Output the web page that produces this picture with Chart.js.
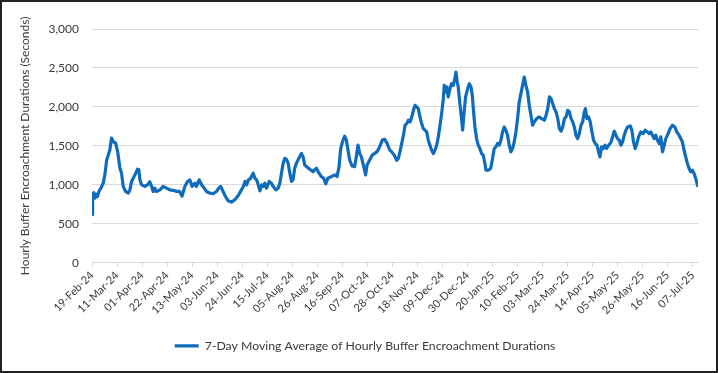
<!DOCTYPE html>
<html>
<head>
<meta charset="utf-8">
<script src="https://cdn.jsdelivr.net/npm/chart.js@4.4.1/dist/chart.umd.min.js"></script>
<style>
  html, body { margin: 0; padding: 0; background: #fff; }
  #frame { width: 718px; height: 373px; box-sizing: border-box; border: 2px solid #222; background: #fff; }
  canvas { display: block; }
</style>
</head>
<body>
<div id="frame"><canvas id="c" width="714" height="369"></canvas></div>
<script>
// ---- Data ----
const startDate = "19-Feb-24";
const tickLabels = ["19-Feb-24","11-Mar-24","01-Apr-24","22-Apr-24","13-May-24","03-Jun-24","24-Jun-24","15-Jul-24","05-Aug-24","26-Aug-24","16-Sep-24","07-Oct-24","28-Oct-24","18-Nov-24","09-Dec-24","30-Dec-24","20-Jan-25","10-Feb-25","03-Mar-25","24-Mar-25","14-Apr-25","05-May-25","26-May-25","16-Jun-25","07-Jul-25"];
const yTicks = [0, 500, 1000, 1500, 2000, 2500, 3000];
const seriesName = "7-Day Moving Average of Hourly Buffer Encroachment Durations";
// days elapsed since 19-Feb-24
const dayOffsets = [0,0.5,1.5,2.5,3.5,4.5,6,7.5,9.5,11,12.3,13.7,15,16.4,17.8,19.8,21.5,23.4,24.8,26.2,28.2,30.4,31.8,33.2,36,38.2,39.3,40.2,41.6,44.4,47.1,48.5,50,51.3,52.7,54,57.1,59.7,62.5,65.3,68,71,73.5,75.6,77.9,80,82.1,84,86.2,87.6,89.9,92,94.1,96,98.8,101.6,104.4,106.4,108,110,112,114.2,117,119.8,122.6,125.4,127,128.4,129.8,131.2,133.1,135.3,136.7,138.1,139.5,140.9,142.3,143.6,145,146.4,148.7,150.6,152,154.2,156.2,157.6,159,160.4,161.8,163.2,164.6,166,167.4,168.7,170.1,171.5,172.9,174.3,175.7,177.1,178.5,179.9,182.7,185.5,188.3,190.5,192.4,194.4,196.1,198,200.8,203.6,205.6,207.3,208.7,210.6,212,213.4,214.8,216.2,218.2,220.4,221.8,223.2,224.6,226,228,229.6,230.8,233,235.2,237.2,239.2,241.4,243.6,245.6,247.6,249.8,251.5,253.7,255.7,257.1,259.3,261.3,262.7,264.1,265.5,266.9,268.3,269.7,271.1,272.4,273.8,275.2,276.6,278,279.4,280.8,282.2,283.6,285,286.4,287.8,289.2,290.6,292,293.4,294.8,295.6,296.7,297.8,298.9,300.3,301.7,303.1,304.5,305.4,306.5,307.3,308.7,310.1,311,312.1,313.5,315.2,316.6,318,319.1,320.2,321.3,322.7,324.1,325.5,326.9,328.3,329.7,330.6,332.5,334.5,336.1,337.5,338.9,340.3,341.7,343.1,344.5,345.9,347.3,348.7,350.1,351.5,352.9,354.3,355.7,357.1,358.5,359.9,361.3,362.7,364.1,365.5,366.9,368.3,369.7,371.1,373.1,375,377.3,379.6,381,382.4,383.8,385.2,386.6,388,389.4,390.8,392.2,393.6,395,396.4,397.8,399.2,400.6,402,403.4,404.7,406.1,407.5,408.9,410.3,411.7,413.1,414,415.3,416.7,418.1,419.5,420.9,422.3,423.7,425.1,426.2,427.6,429,430.4,431.8,433.5,435.4,436.8,438.2,439.6,441,442.4,443.8,445.2,446.6,448,449.4,451.6,453,454.4,455.8,457.2,458.6,460.5,462.5,464.2,466.1,467.5,468.9,470.3,471.7,473.1,474.5,475.9,477.3,478.7,480.1,481.5,483.4,485.1,487.1,489,490.7,492.6,494,495.4,496.8,498.2,499.6,501,502.4,503.8,505.2,506.6,508,508.5];
const values = [620,880,900,830,880,850,920,960,1025,1150,1320,1385,1450,1600,1555,1535,1430,1215,1150,980,915,893,935,1042,1128,1200,1195,1064,1000,980,1008,1040,980,915,958,915,935,980,958,935,930,915,915,855,980,1040,1064,980,1020,980,1064,1000,958,915,893,885,915,958,980,915,850,795,778,808,860,935,980,1043,1000,1064,1085,1150,1085,1064,1000,923,1000,980,1021,957,1043,1021,980,936,957,1021,1150,1277,1340,1328,1277,1150,1043,1064,1213,1277,1320,1362,1404,1362,1255,1234,1200,1170,1213,1150,1106,1085,1013,1085,1106,1128,1106,1234,1468,1574,1625,1574,1447,1319,1243,1234,1362,1510,1404,1362,1234,1128,1255,1319,1383,1404,1426,1489,1574,1583,1532,1447,1423,1380,1316,1338,1487,1637,1765,1786,1829,1807,1871,1957,2021,2000,1978,1871,1786,1722,1701,1679,1573,1509,1444,1402,1444,1509,1615,1765,1914,2106,2277,2192,2256,2128,2234,2298,2277,2363,2448,2320,2256,2042,1850,1701,1914,2128,2234,2298,2256,2149,1936,1743,1594,1509,1466,1402,1380,1274,1188,1188,1210,1338,1466,1487,1530,1509,1573,1679,1743,1701,1637,1509,1423,1466,1551,1679,1850,2064,2170,2277,2384,2277,2192,2021,1893,1765,1807,1850,1871,1850,1829,1893,1978,2128,2106,2042,1978,1935,1850,1722,1688,1743,1850,1871,1957,1935,1850,1807,1743,1637,1594,1658,1765,1807,1935,1978,1850,1871,1807,1679,1573,1530,1509,1423,1359,1487,1466,1509,1466,1509,1543,1615,1688,1637,1594,1573,1509,1551,1637,1701,1743,1756,1701,1551,1466,1530,1615,1679,1658,1701,1679,1658,1679,1637,1594,1637,1573,1530,1615,1423,1509,1594,1658,1722,1765,1743,1679,1637,1594,1551,1444,1359,1274,1210,1167,1188,1146,1082,996,975];

// ---- helpers ----
const MONTHS = {Jan:0,Feb:1,Mar:2,Apr:3,May:4,Jun:5,Jul:6,Aug:7,Sep:8,Oct:9,Nov:10,Dec:11};
function parseLabel(s) {
  const [d, m, y] = s.split('-');
  return Date.UTC(2000 + parseInt(y, 10), MONTHS[m], parseInt(d, 10));
}
const t0 = parseLabel(startDate);
const tickDays = tickLabels.map(l => Math.round((parseLabel(l) - t0) / 86400000));
const points = dayOffsets.map((d, i) => ({ x: d, y: values[i] }));

const FONT = 'Lato, "Open Sans", sans-serif';
const TEXT = '#3a3a3a';
const GRID = '#d9d9d9';
const BLUE = '#0f6cbd';

// shift the legend a little to the right, as in the reference
const legendShift = {
  id: 'legendShift',
  afterLayout(chart) {
    if (chart.legend) { chart.legend.left += 15; chart.legend.right += 15; }
  }
};

new Chart(document.getElementById('c'), {
  type: 'line',
  data: {
    datasets: [{
      label: seriesName,
      data: points,
      borderColor: BLUE,
      backgroundColor: BLUE,
      borderWidth: 3.2,
      pointRadius: 0,
      pointStyle: 'line',
      tension: 0,
      borderJoinStyle: 'round',
      fill: false
    }]
  },
  plugins: [legendShift],
  options: {
    responsive: false,
    animation: false,
    devicePixelRatio: 1,
    layout: { padding: { top: 27, right: 18, left: 0, bottom: 9 } },
    plugins: {
      legend: {
        position: 'bottom',
        labels: {
          usePointStyle: true,
          pointStyle: 'line',
          pointStyleWidth: 24,
          color: TEXT,
          font: { family: FONT, size: 12.25 },
          padding: 10
        }
      },
      tooltip: { enabled: false }
    },
    scales: {
      x: {
        type: 'linear',
        min: tickDays[0],
        max: dayOffsets[dayOffsets.length - 1],
        afterBuildTicks: (scale) => { scale.ticks = tickDays.map(v => ({ value: v })); },
        afterFit: (scale) => { scale.height = 67; },
        ticks: {
          autoSkip: false,
          minRotation: 45,
          maxRotation: 45,
          padding: 2,
          color: TEXT,
          font: { family: FONT, size: 11 },
          callback: (value, index) => tickLabels[index]
        },
        grid: { drawOnChartArea: false, drawTicks: true, tickLength: 4, color: GRID },
        border: { display: true, color: GRID, width: 1 }
      },
      y: {
        min: yTicks[0],
        max: yTicks[yTicks.length - 1],
        afterBuildTicks: (scale) => { scale.ticks = yTicks.map(v => ({ value: v })); },
        afterFit: (scale) => { scale.width = 90; },
        ticks: {
          padding: 13,
          color: TEXT,
          font: { family: FONT, size: 12 },
          callback: (v) => v.toLocaleString('en-US')
        },
        grid: { color: GRID, drawTicks: false, lineWidth: 1 },
        border: { display: false },
        title: {
          display: true,
          text: 'Hourly Buffer Encroachment Durations (Seconds)',
          color: TEXT,
          font: { family: FONT, size: 12 },
          padding: { top: 16, bottom: 0 }
        }
      }
    }
  }
});
</script>
</body>
</html>
